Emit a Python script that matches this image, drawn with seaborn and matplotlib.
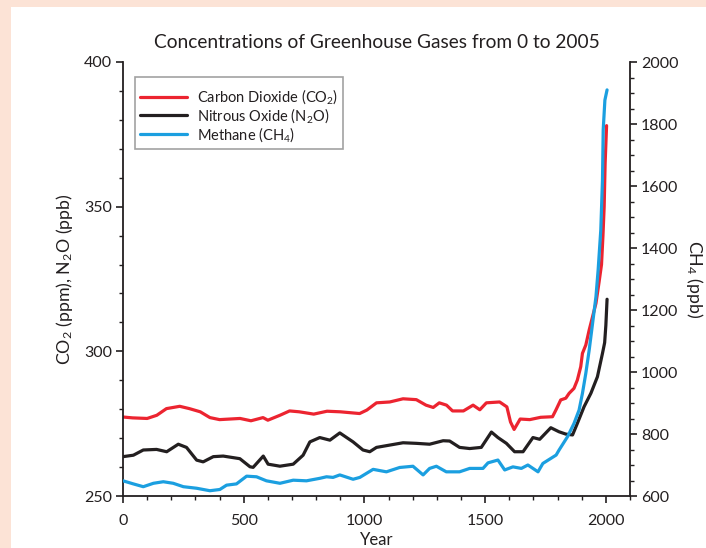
import matplotlib
matplotlib.use("Agg")
import matplotlib.pyplot as plt
from matplotlib.patches import Rectangle
from matplotlib.ticker import MultipleLocator
import seaborn as sns
import pandas as pd

# Carbon dioxide (ppm)
co2_years = [0, 40, 100, 140, 180, 235, 275, 320, 360, 400,
             485, 530, 580, 600, 650, 690, 730, 790, 845, 900,
             980, 1010, 1050, 1105, 1160, 1215, 1255, 1285, 1310, 1340,
             1365, 1410, 1450, 1478, 1505, 1560, 1590, 1605, 1620, 1645,
             1685, 1730, 1779, 1793, 1813, 1834, 1848, 1868, 1882, 1896,
             1903, 1917, 1931, 1945, 1959, 1972, 1982, 1988, 1993, 1997, 2003]
co2_ppm = [277.3, 277.0, 276.8, 277.9, 280.2, 281.0, 280.2, 279.1, 277.1, 276.4,
           276.8, 276.0, 277.1, 276.2, 277.9, 279.4, 279.1, 278.3, 279.3, 279.1,
           278.5, 279.7, 282.2, 282.5, 283.6, 283.3, 281.4, 280.6, 282.2, 281.4,
           279.4, 279.4, 281.4, 279.8, 282.2, 282.5, 280.8, 275.6, 273.0, 276.6,
           276.4, 277.2, 277.4, 279.7, 283.2, 283.8, 285.5, 287.2, 290.1, 294.7,
           299.3, 302.2, 307.4, 312.0, 316.6, 324.0, 330.0, 340.0, 350.0, 365.0, 378.0]

# Nitrous oxide (ppb)
n2o_years = [0, 43, 84, 139, 181, 229, 263, 305, 332, 374,
             415, 484, 526, 539, 581, 601, 650, 705, 746, 774,
             815, 857, 898, 953, 994, 1022, 1050, 1105, 1160, 1215,
             1270, 1326, 1353, 1394, 1436, 1484, 1526, 1553, 1588, 1622,
             1657, 1698, 1726, 1772, 1806, 1834, 1862, 1882, 1910, 1938,
             1965, 1986, 1995, 2000, 2005]
n2o_ppb = [263.6, 264.1, 265.9, 266.1, 265.3, 267.9, 266.8, 262.4, 261.8, 263.6,
           263.8, 262.9, 260.1, 259.9, 263.8, 261.0, 260.3, 261.0, 264.1, 268.7,
           270.2, 269.3, 271.8, 268.7, 265.9, 265.3, 266.8, 267.6, 268.4, 268.2,
           267.9, 269.1, 269.0, 266.8, 266.4, 266.8, 272.1, 270.2, 268.2, 265.3,
           265.3, 270.2, 269.6, 273.6, 272.2, 271.4, 271.1, 275.1, 280.9, 285.5,
           291.2, 299.3, 303.0, 309.0, 318.0]

# Methane (ppb), right-hand axis
ch4_years = [0, 43, 84, 126, 167, 208, 250, 305, 360, 401,
             429, 470, 512, 553, 594, 650, 705, 760, 815, 843,
             870, 898, 953, 981, 1036, 1091, 1146, 1201, 1243, 1270,
             1298, 1339, 1394, 1436, 1491, 1512, 1553, 1581, 1615, 1650,
             1677, 1719, 1739, 1794, 1806, 1841, 1868, 1889, 1903, 1917,
             1931, 1945, 1959, 1968, 1979, 1986, 1989, 1996, 2005]
ch4_ppb = [649, 639, 630, 641, 646, 641, 630, 625, 617, 621,
           635, 639, 664, 662, 649, 641, 651, 649, 657, 662,
           660, 668, 654, 660, 686, 678, 692, 696, 668, 689,
           696, 678, 678, 689, 689, 707, 716, 684, 694, 689,
           700, 678, 705, 732, 748, 791, 834, 877, 931, 996,
           1071, 1157, 1243, 1329, 1458, 1619, 1781, 1877, 1910]

labels = ["Carbon Dioxide (CO$_2$)", "Nitrous Oxide (N$_2$O)", "Methane (CH$_4$)"]
colors = ["#ec2430", "#231f20", "#1b9fe0"]
title = "Concentrations of Greenhouse Gases from 0 to 2005"

sns.set_style("ticks")
plt.rcParams["font.family"] = ["Lato", "DejaVu Sans"]
plt.rcParams["mathtext.fontset"] = "custom"
plt.rcParams["mathtext.rm"] = "Lato"
plt.rcParams["mathtext.it"] = "Lato:italic"
ink = "#231f20"

co2_df = pd.DataFrame({"year": co2_years, "value": co2_ppm})
n2o_df = pd.DataFrame({"year": n2o_years, "value": n2o_ppb})
ch4_df = pd.DataFrame({"year": ch4_years, "value": ch4_ppb})

fig = plt.figure(figsize=(7.06, 5.48), dpi=100, facecolor="white")
fig.patches.append(Rectangle((0, 1 - 7 / 548), 1, 7 / 548, transform=fig.transFigure,
                             facecolor="#fce3d6", edgecolor="none", zorder=0))
fig.patches.append(Rectangle((0, 0), 11 / 706, 1, transform=fig.transFigure,
                             facecolor="#fce3d6", edgecolor="none", zorder=0))

ax = fig.add_axes([123 / 706, 1 - 496 / 548, (630 - 123) / 706, (496 - 62) / 548])
ax2 = ax.twinx()

lw = 2.3
sns.lineplot(data=co2_df, x="year", y="value", ax=ax, color=colors[0], lw=lw, label=labels[0])
sns.lineplot(data=n2o_df, x="year", y="value", ax=ax, color=colors[1], lw=lw, label=labels[1])
sns.lineplot(data=ch4_df, x="year", y="value", ax=ax2, color=colors[2], lw=lw, label=labels[2])

for a in (ax, ax2):
    if a.get_legend() is not None:
        a.get_legend().remove()

ax.set_xlim(0, 2100)
ax.set_ylim(250, 400)
ax2.set_ylim(600, 2000)

ax.xaxis.set_major_locator(MultipleLocator(500))
ax.xaxis.set_minor_locator(MultipleLocator(100))
ax.yaxis.set_major_locator(MultipleLocator(50))
ax.yaxis.set_minor_locator(MultipleLocator(10))
ax2.yaxis.set_major_locator(MultipleLocator(200))
ax2.yaxis.set_minor_locator(MultipleLocator(50))

for a in (ax, ax2):
    a.spines["top"].set_visible(False)
    for s in ("left", "right", "bottom"):
        a.spines[s].set_color(ink)
        a.spines[s].set_linewidth(1.3)
    a.tick_params(which="major", length=5, width=1.2, color=ink, labelsize=11.5,
                  labelcolor=ink, direction="out", pad=3)
    a.tick_params(which="minor", length=3, width=1.0, color=ink, direction="out")
    a.set_facecolor("none")
ax.tick_params(axis="x", which="major", pad=8)
ax.spines["right"].set_visible(False)
ax2.spines["left"].set_visible(False)
ax2.spines["bottom"].set_visible(False)

ax.set_xlabel("Year", fontsize=12, color=ink, labelpad=3)
ax.set_ylabel("CO$_2$ (ppm), N$_2$O (ppb)", fontsize=12.8, color=ink, labelpad=6)
ax2.set_ylabel("CH$_4$ (ppb)", fontsize=12.8, color=ink, rotation=270, labelpad=19)
ax.set_title(title, fontsize=13.8, color=ink, pad=10)

handles = ax.get_lines()[:2] + ax2.get_lines()[:1]
leg = ax2.legend(handles, labels, loc="upper left", bbox_to_anchor=(0.024, 0.965),
                 borderaxespad=0, fontsize=10.5, frameon=True, fancybox=False,
                 handlelength=3.2, handletextpad=0.7, labelspacing=0.0,
                 borderpad=0.35, title=" ", title_fontsize=4)
leg.get_frame().set_edgecolor("#8a8a8a")
leg.get_frame().set_linewidth(1.2)
for t in leg.get_texts():
    t.set_color(ink)

fig.savefig("out.png", dpi=100, facecolor=fig.get_facecolor())
